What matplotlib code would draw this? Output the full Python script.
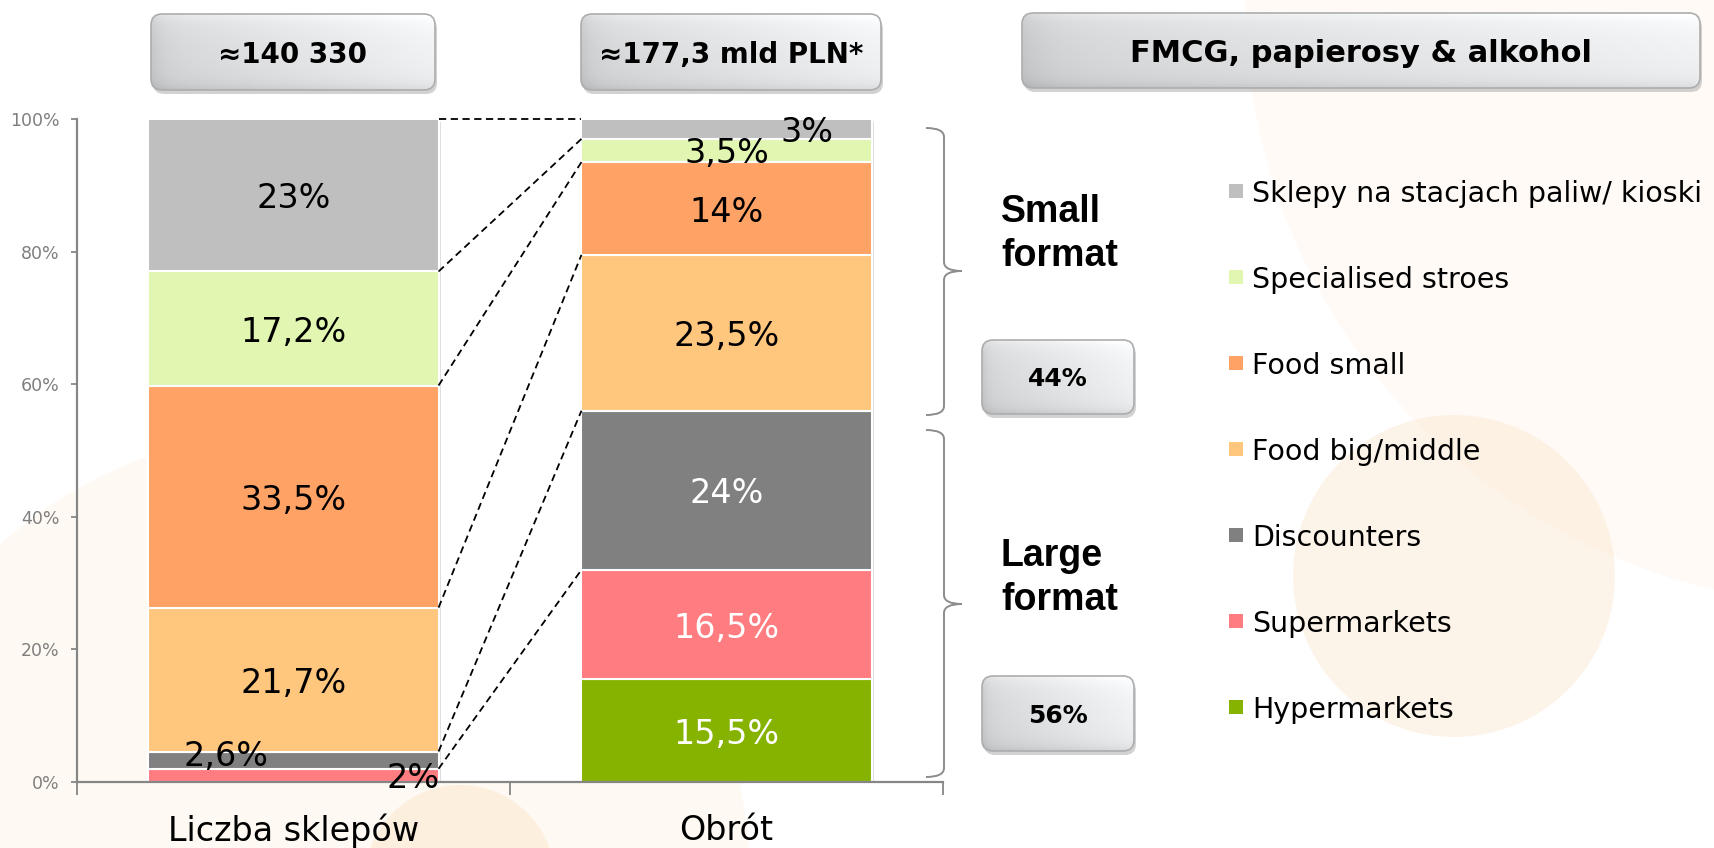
import numpy as np
import matplotlib
matplotlib.use("Agg")
import matplotlib.pyplot as plt
from matplotlib import transforms
from matplotlib.patches import FancyBboxPatch, Circle, Rectangle, PathPatch
from matplotlib.path import Path

# data
categories = ["Liczba sklepów", "Obrót"]
segments = ["Hypermarkets", "Supermarkets", "Discounters", "Food big/middle",
            "Food small", "Specialised stroes", "Sklepy na stacjach paliw/ kioski"]
shops = [0, 2, 2.6, 21.7, 33.5, 17.2, 23]
turnover = [15.5, 16.5, 24, 23.5, 14, 3.5, 3]
shop_labels = ["", "2%", "2,6%", "21,7%", "33,5%", "17,2%", "23%"]
turnover_labels = ["15,5%", "16,5%", "24%", "23,5%", "14%", "3,5%", "3%"]
colors = ["#86B200", "#FF7C80", "#808080", "#FFC67D", "#FFA265", "#E0F6B1", "#BFBFBF"]
white_text = {(1, 0), (1, 1), (1, 2)}
headers = ["≈140 330", "≈177,3 mld PLN*"]
title = "FMCG, papierosy & alkohol"
groups = [("Small", "format"), ("Large", "format")]
group_shares = ["44%", "56%"]

# small labels that sit off-centre: (bar, segment) -> (dx, dy)
nudge = {(0, 1): (0.275, 0.0), (0, 2): (-0.155, 1.1), (1, 6): (0.185, 0.0)}

W, H = 1715, 848
fig = plt.figure(figsize=(W / 100, H / 100), dpi=100)

# pale background circles
bg = fig.add_axes([0, 0, 1, 1], zorder=0)
bg.set_xlim(0, W)
bg.set_ylim(H, 0)
bg.axis("off")
for cx, cy, r, fc, a in [(1850, 0, 605, "#FFFAF6", 1.0),
                         (300, 880, 450, "#FEF9F2", 1.0),
                         (1454, 576, 161, "#FCE6CC", 0.42),
                         (460, 880, 95, "#FCE6CC", 0.5)]:
    bg.add_patch(Circle((cx, cy), r, fc=fc, ec="none", alpha=a))

# main chart
ax = fig.add_axes([77 / W, 66 / H, 866 / W, 663 / H], zorder=1)
ax.patch.set_visible(False)
x = np.arange(len(categories))
w = 0.67
data = np.array([shops, turnover])
labels = [shop_labels, turnover_labels]

ax.add_patch(Rectangle((w / 2, 0), 1 - w, 100, fc="white", ec="none", zorder=0))
shadow_tr = transforms.offset_copy(ax.transData, fig=fig, x=2.5, y=-2.5, units="dots")
ax.bar(x, data.sum(axis=1), w, color="black", alpha=0.13, transform=shadow_tr, zorder=1)

bottoms = np.zeros(len(categories))
for i, seg in enumerate(segments):
    vals = data[:, i]
    ax.bar(x, vals, w, bottom=bottoms, color=colors[i], edgecolor="white",
           linewidth=1.5, zorder=2)
    for b in range(len(categories)):
        txt = labels[b][i]
        if not txt:
            continue
        dx, dy = nudge.get((b, i), (0, 0))
        ax.text(x[b] + dx, bottoms[b] + vals[b] / 2 + dy, txt, ha="center",
                va="center_baseline", fontsize=24, zorder=4, clip_on=False,
                color="white" if (b, i) in white_text else "black")
    bottoms += vals

# dashed connectors between matching segment borders
lcum = np.concatenate([[0], np.cumsum(shops)])
rcum = np.concatenate([[0], np.cumsum(turnover)])
for k in range(1, len(segments) + 1):
    if shops[k - 1] > 0:
        ax.plot([w / 2, 1 - w / 2], [lcum[k], rcum[k]], ls=(0, (4, 2.5)),
                color="black", lw=1.3, zorder=3, clip_on=False)

ax.set_xlim(-0.5, 1.5)
ax.set_ylim(0, 100)
for s in ["top", "right"]:
    ax.spines[s].set_visible(False)
for s in ["left", "bottom"]:
    ax.spines[s].set_color("#868686")
    ax.spines[s].set_linewidth(1.6)
ax.set_yticks(range(0, 101, 20))
ax.set_yticklabels([f"{v}%" for v in range(0, 101, 20)])
ax.tick_params(axis="y", length=4.5, width=1.3, color="#868686",
               labelcolor="#7F7F7F", labelsize=12.5, pad=8)
ax.set_xticks(x)
ax.set_xticklabels(categories, fontsize=24)
ax.tick_params(axis="x", which="major", length=0, pad=23)
ax.set_xticks([-0.5, 0.5, 1.5], minor=True)
ax.tick_params(axis="x", which="minor", length=9, width=1.3, color="#868686")

# overlay in pixel coordinates
ov = fig.add_axes([0, 0, 1, 1], zorder=2)
ov.patch.set_visible(False)


def gbox(x0, y0, x1, y1, text, fs):
    style = "round,pad=0,rounding_size=11"
    ov.add_patch(FancyBboxPatch((x0 + 2, y0 + 4), x1 - x0, y1 - y0, boxstyle=style,
                                fc="#808080", ec="none", alpha=0.35, zorder=1))
    frame = FancyBboxPatch((x0, y0), x1 - x0, y1 - y0, boxstyle=style,
                           fc="none", ec="#ADADAD", lw=1.2, zorder=3)
    ov.add_patch(frame)
    X, Y = np.meshgrid(np.linspace(0, 1, 200), np.linspace(0, 1, 60))
    v = (0.86 + 0.11 * X - 0.04 * Y + 0.05 * np.exp(-Y * 10)
         - 0.06 * np.exp(-X * 25) - 0.07 * np.exp(-(1 - Y) * 12))
    img = np.dstack([v - 0.006, v, v + 0.006]).clip(0, 1)
    im = ov.imshow(img, extent=(x0, x1, y1, y0), aspect="auto", zorder=2,
                   interpolation="bilinear")
    im.set_clip_path(frame)
    ov.text((x0 + x1) / 2, (y0 + y1) / 2, text, ha="center", va="center_baseline",
            fontsize=fs, fontweight="bold", zorder=4)


def brace(xv, y0, y1, ym, wl=18, wr=18, r=9):
    verts = [(xv - wl, y0), (xv, y0), (xv, y0 + r), (xv, ym - r), (xv, ym), (xv + wr, ym),
             (xv + wr, ym), (xv, ym), (xv, ym + r), (xv, y1 - r), (xv, y1), (xv - wl, y1)]
    codes = [Path.MOVETO, Path.CURVE3, Path.CURVE3, Path.LINETO, Path.CURVE3, Path.CURVE3,
             Path.MOVETO, Path.CURVE3, Path.CURVE3, Path.LINETO, Path.CURVE3, Path.CURVE3]
    ov.add_patch(PathPatch(Path(verts, codes), fc="none", ec="#8C8C8C", lw=1.4))


for (x0, x1), txt in zip([(151, 435), (581, 881)], headers):
    gbox(x0, 14, x1, 90, txt, 20)
gbox(1022, 13, 1700, 88, title, 22)

for (y0, y1, ym), (l1, l2), share, (by0, by1), base in zip(
        [(128, 415, 271), (430, 777, 604)], groups, group_shares,
        [(340, 414), (676, 751)], [222, 566]):
    brace(944, y0, y1, ym)
    ov.text(1001, base, l1, fontsize=27, fontweight="bold", family="Liberation Sans",
            va="baseline")
    ov.text(1001, base + 44, l2, fontsize=27, fontweight="bold", family="Liberation Sans",
            va="baseline")
    gbox(982, by0, 1134, by1, share, 18)

for i, (name, col) in enumerate(zip(segments[::-1], colors[::-1])):
    yc = 191 + 86 * i
    ov.scatter([1236], [yc], marker="s", s=100, c=col, linewidths=0)
    ov.text(1252, yc + 10.5, name, va="baseline", fontsize=20.5)

ov.set_xlim(0, W)
ov.set_ylim(H, 0)
ov.axis("off")

fig.savefig("out.png", dpi=100)
